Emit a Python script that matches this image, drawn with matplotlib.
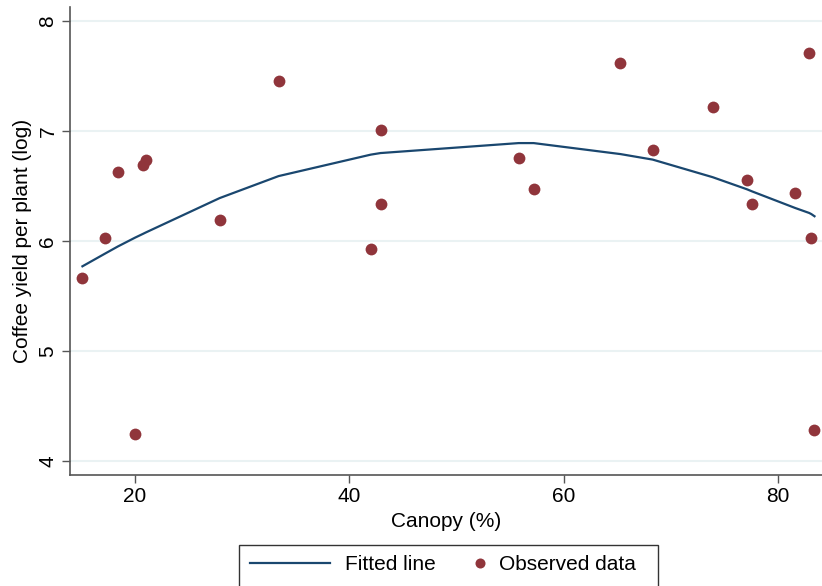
import matplotlib
matplotlib.use('Agg')
import matplotlib.pyplot as plt
from matplotlib.legend_handler import HandlerLine2D
from matplotlib.patches import Rectangle

# Observed data (canopy %, log coffee yield per plant)
canopy = [15.1, 17.2, 18.4, 20.0, 20.75, 21.0, 27.9, 33.4, 42.0, 42.95, 43.0,
          55.8, 57.2, 65.3, 68.3, 73.9, 77.1, 77.6, 81.6, 82.9, 83.1, 83.4]
yield_log = [5.66, 6.03, 6.63, 4.25, 6.69, 6.74, 6.19, 7.45, 5.93, 6.34, 7.01,
             6.75, 6.47, 7.62, 6.83, 7.22, 6.55, 6.34, 6.44, 7.71, 6.03, 4.28]

# Fitted values at each observed canopy value
fitted = [5.77, 5.885, 5.95, 6.03, 6.065, 6.077, 6.39, 6.59, 6.785, 6.80, 6.80,
          6.89, 6.89, 6.79, 6.74, 6.58, 6.47, 6.45, 6.30, 6.255, 6.245, 6.225]

xticks = [20, 40, 60, 80]
yticks = [4, 5, 6, 7, 8]


class MarkerRightHandler(HandlerLine2D):
    """Put the single legend marker near the right end of its handle box."""
    def get_xdata(self, legend, xdescent, ydescent, width, height, fontsize):
        right = -xdescent + width
        return [right - 6, right], [right - 3]


plt.rcParams['font.family'] = ['Liberation Sans', 'DejaVu Sans']
FS = 15

fig = plt.figure(figsize=(8.22, 5.86), dpi=100)
W, H = 822, 586
ax = fig.add_axes([70 / W, (H - 475) / H, (W - 70) / W, (475 - 7) / H])

line_color = '#1a476f'
dot_color = '#90353b'

fit_line, = ax.plot(canopy, fitted, color=line_color, lw=1.6, label='Fitted line', zorder=3)
obs, = ax.plot(canopy, yield_log, 'o', color=dot_color, markersize=8.5, mec='none',
               label='Observed data', zorder=4)

ax.set_xlim(13.94, 84.1)
ax.set_ylim(3.873, 8.127)
ax.set_xticks(xticks)
ax.set_yticks(yticks)
ax.grid(axis='y', color='#eaf2f3', lw=1.5, zorder=0)
ax.set_axisbelow(True)

for s in ['top', 'right']:
    ax.spines[s].set_visible(False)
for s in ['left', 'bottom']:
    ax.spines[s].set_color('#555555')
    ax.spines[s].set_linewidth(1.2)

ax.tick_params(axis='both', length=6, width=1.0, color='#555555',
               labelsize=FS, pad=3)
plt.setp(ax.get_yticklabels(), rotation=90, va='center')

ax.set_xlabel('Canopy (%)', fontsize=FS, labelpad=4)
ax.set_ylabel('Coffee yield per plant (log)', fontsize=FS, labelpad=5)

# legend box runs off the bottom of the image, so draw the frame by hand
fig.patches.append(Rectangle((239 / W, -20 / H), (658 - 239) / W, (H - 545 + 20) / H,
                             transform=fig.transFigure, fill=False,
                             edgecolor='#333333', lw=1.0))
leg = fig.legend(handles=[fit_line, obs], loc='upper center',
                 bbox_to_anchor=(443 / W, 1 - 545 / H), borderaxespad=0,
                 ncol=2, fontsize=FS, frameon=False,
                 handlelength=3.84, columnspacing=-1.55,
                 borderpad=0.5, handletextpad=0.72, markerscale=0.85,
                 handler_map={obs: MarkerRightHandler(numpoints=1)})

fig.savefig('out.png', dpi=100)
